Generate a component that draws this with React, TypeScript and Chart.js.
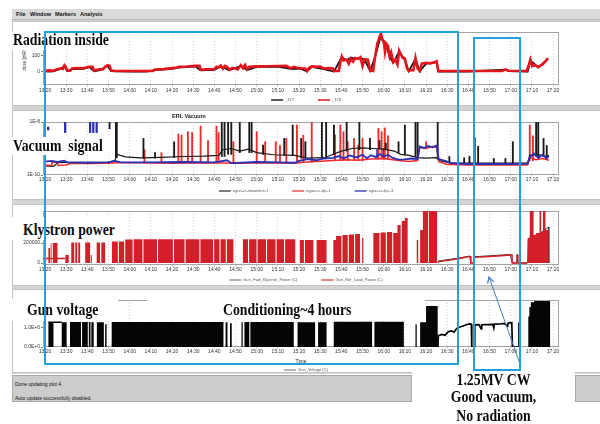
import { useEffect, useRef } from 'react';
import { Chart, registerables } from 'chart.js';

Chart.register(...registerables);
Chart.defaults.font.family = '"Liberation Sans", Arial, sans-serif';

type Pt = [number, number | null];
type Burst = [number, number, number];

// Time axis: minutes after 13:20, one tick every 10 minutes
const timeTicks = [
  '13:20', '13:30', '13:40', '13:50', '14:00', '14:10', '14:20', '14:30', '14:40', '14:50',
  '15:00', '15:10', '15:20', '15:30', '15:40', '15:50', '16:00', '16:10', '16:20', '16:30',
  '16:40', '16:50', '17:00', '17:10', '17:20',
];
const T_MIN = -0.95;
const T_MAX = 242.8;

// ---------- Radiation (dose rate) ----------
const radTicks = [0, 100];
const radTickLabels = ['0', '100'];
const radLegend = ['_377', '_378'];
const radLegendColors = ['#222222', '#e3141c'];
const dose378: Pt[] = [
  [0, 6], [2, 8], [4, 6], [5.5, 14], [7, 20], [8.5, 18], [9.2, 40], [9.8, 30], [10.5, 8], [12, 6],
  [12.8, 20], [15, 22], [18, 21], [19.5, 26], [21, 31], [22.5, 30], [23.2, 6], [24.5, 12], [26, 14],
  [27.5, 15], [28.5, 32], [29.5, 40], [30.5, 38], [31.2, 8], [33, 4], [40, 4], [46, 4], [51, 5],
  [52, 14], [56, 16], [60, 22], [62, 24], [63, 30], [67, 32], [71, 36], [73, 36], [73.5, 12], [76, 14],
  [80, 16], [81, 30], [82, 26], [83, 38], [84, 18], [85, 36], [86, 30], [87, 12], [88.5, 24], [90, 20],
  [91, 14], [92.5, 40], [93.5, 22], [94.5, 42], [95.5, 14], [96.5, 30], [100, 33], [105, 34], [110, 35],
  [114, 36], [116, 22], [117.5, 30], [119, 24], [121, 21], [123.2, 18], [123.8, 4], [124.8, 25], [126, 33],
  [128, 30], [130, 32], [131.6, 20], [134, 22], [136, 20], [136.5, 4], [138.8, 4], [139.5, 60], [140.2, 95],
  [141, 70], [142.5, 75], [143.5, 50], [144.5, 80], [145.5, 62], [146.5, 85], [148, 80], [149, 90], [150, 35],
  [151, 78], [152.5, 75], [153.6, 8], [155, 4], [156, 100], [157, 175], [158, 215], [158.7, 238], [159.3, 200],
  [160, 190], [160.6, 125], [161.2, 175], [162, 160], [162.8, 95], [163.5, 120], [164.5, 60], [165.5, 75],
  [166.5, 45], [167.3, 130], [168, 110], [169, 85], [170, 80], [171, 20], [171.8, 5], [173, 10], [174, 8],
  [175, 85], [176, 20], [177, 5], [178, 50], [180, 55], [182, 52], [184, 58], [185, 65], [185.8, 4],
  [200, 4], [216, 5], [217.5, 14], [219, 6], [227.5, 4], [228.5, 40], [229.3, 75], [230.2, 35], [231.5, 40],
  [233, 30], [235, 45], [236.5, 65], [237.6, 85],
];
const dose377: Pt[] = [
  [0, 2], [2, 0], [4, 2], [5.5, 10], [7, 16], [9.2, 34], [10.5, 4], [12.8, 16], [18, 18], [21, 28],
  [23.2, 2], [26, 10], [29.5, 36], [31.2, 4], [40, 1], [44, 0], [48, 1], [52, 10], [60, 18], [63, 26],
  [71, 33], [73.5, 8], [80, 12], [83, 34], [87, 8], [92.5, 36], [95.5, 10], [100, 30], [110, 32], [116, 18],
  [121, 17], [123.8, 1], [126, 30], [131.6, 16], [136.5, 1], [140.2, 90], [142.5, 70], [144.5, 88],
  [146.5, 80], [149, 86], [151, 74], [153.6, 4], [156, 95], [158.7, 225], [160, 180], [161.2, 165],
  [162.8, 90], [164.5, 55], [167.3, 125], [170, 75], [171.8, 2], [175, 80], [177, 2], [180, 50], [185, 60],
  [185.8, 1], [200, 1], [217.5, 12], [219, 3], [228, 1], [229.3, 70], [233, 26], [237.6, 80],
];

// ---------- ERL vacuum (log scale) ----------
const vacTicks = [1e-10, 1e-8];
const vacTickLabels = ['1E-10', '1E-8'];
const vacLegend = ['egun-cc-beamline-1', 'egun-cc-fpc-1', 'egun-cc-fpc-3'];
const vacLegendColors = ['#555555', '#f05050', '#4a4ac8'];
const beamline1: Pt[] = [
  [0, 2.2e-10], [4, 2.1e-10], [6, 2.9e-10], [10, 3.0e-10], [20, 3.0e-10], [30, 3.1e-10], [33, 3.5e-10],
  [34, 6e-10], [38, 4.8e-10], [45, 4.4e-10], [55, 4.6e-10], [65, 5.0e-10], [75, 5.2e-10], [82, 5.5e-10],
  [84, 9e-10], [88, 1.0e-9], [92, 8e-10], [96, 9.5e-10], [100, 7e-10], [108, 5.8e-10], [118, 5.5e-10],
  [124, 4.3e-10], [132, 4.5e-10], [137, 6.5e-10], [140, 8e-10], [145, 1.0e-9], [150, 1.05e-9], [155, 1.0e-9],
  [160, 9.5e-10], [165, 8e-10], [168, 6e-10], [172, 5.5e-10], [176, 4.5e-10], [180, 4.3e-10], [185, 4.5e-10],
  [186, 3.5e-10], [192, 2.8e-10], [205, 2.8e-10], [220, 2.8e-10], [228, 2.9e-10], [229, 5.5e-10],
  [233, 6e-10], [236, 5e-10], [238, 5.5e-10],
];
const fpc1: Pt[] = [
  [0, 2.4e-10], [3, 2.3e-10], [3.2, 3.0e-10], [6, 3.0e-10], [6.2, 2.3e-10], [10, 2.4e-10], [12, 2.7e-10],
  [20, 2.7e-10], [30, 2.8e-10], [34, 2.9e-10], [45, 2.9e-10], [60, 2.8e-10], [75, 2.9e-10], [90, 2.8e-10],
  [105, 2.9e-10], [118, 2.8e-10], [122, 3.0e-10], [130, 3.3e-10], [136, 3.5e-10], [142, 3.8e-10],
  [148, 3.6e-10], [154, 4.0e-10], [160, 4.2e-10], [166, 3.6e-10], [172, 3.2e-10], [176, 3.5e-10],
  [177, 1.1e-9], [180, 1.0e-9], [183, 1.2e-9], [185, 1.1e-9], [186, 3.2e-10], [190, 2.5e-10], [200, 2.4e-10],
  [215, 2.4e-10], [228, 2.4e-10], [229, 4.5e-10], [232, 3.8e-10], [235, 4.2e-10], [238, 3.6e-10],
];
const fpc3: Pt[] = [
  [0, 3.2e-10], [3, 3.4e-10], [6, 3.1e-10], [9, 3.5e-10], [10.5, 3.0e-10], [20, 2.9e-10], [30, 3.0e-10],
  [33, 3.4e-10], [36, 3.0e-10], [50, 3.0e-10], [65, 3.1e-10], [80, 3.0e-10], [86, 3.6e-10], [88, 2.8e-10],
  [100, 3.1e-10], [110, 3.0e-10], [118, 2.9e-10], [120, 3.4e-10], [124, 4.0e-10], [128, 3.6e-10],
  [132, 4.2e-10], [136, 4.4e-10], [139, 5.2e-10], [141, 4.2e-10], [144, 5.5e-10], [147, 4.6e-10],
  [150, 5.8e-10], [152, 4.3e-10], [154, 5.6e-10], [156, 4.8e-10], [158, 6.2e-10], [160, 5.0e-10],
  [162, 5.8e-10], [164, 4.5e-10], [167, 3.8e-10], [170, 3.9e-10], [173, 4.2e-10], [176, 4.0e-10],
  [177, 1.2e-9], [179, 1.05e-9], [181, 1.25e-9], [183, 1.1e-9], [185, 1.3e-9], [186, 4.0e-10], [189, 3.4e-10],
  [192, 2.8e-10], [200, 2.6e-10], [210, 2.6e-10], [220, 2.6e-10], [228, 2.7e-10], [229, 4.8e-10],
  [231, 6.5e-10], [233, 4.4e-10], [235, 5.8e-10], [237, 4.2e-10], [238, 5.2e-10],
];
// pressure bursts: [minute, low, high]
const beamline1Bursts: Burst[] = [
  [30.5, 5.5e-9, 2e-8], [33.5, 4.5e-10, 2e-8], [33.9, 4.5e-10, 2e-8], [46.5, 4.3e-10, 2.4e-9],
  [52, 4.3e-10, 7e-10], [61, 4.6e-10, 1.8e-9], [83.5, 5e-10, 2e-8], [84.8, 5e-10, 2e-8], [86.5, 6e-10, 2e-8],
  [88, 6e-10, 2e-8], [92, 7e-10, 2e-8], [96.5, 7e-10, 2e-8], [97.6, 7e-10, 2e-8], [103, 6e-10, 1.35e-9],
  [113, 5.5e-10, 2.4e-9], [117, 5.5e-10, 7.7e-9], [121, 4.3e-10, 2.4e-9], [123, 4.3e-10, 1.8e-9],
  [130.8, 4.5e-10, 2e-8], [132.8, 4.5e-10, 2e-8], [136.5, 6e-10, 7.7e-9], [142.5, 8e-10, 2e-8],
  [148.5, 9e-10, 2e-8], [153.5, 9e-10, 2.4e-9], [158, 1e-9, 2.0e-9], [161, 9e-10, 1.6e-9],
  [167, 7e-10, 1.8e-9], [170, 6e-10, 7.7e-9], [175, 5e-10, 2e-8], [176, 5e-10, 2e-8], [185.5, 4e-10, 2e-8],
  [191, 2.8e-10, 5e-10], [198, 2.8e-10, 4.5e-10], [200.5, 2.8e-10, 5e-10], [203, 2.8e-10, 2.6e-9],
  [204.6, 2.8e-10, 1.2e-9], [212, 2.8e-10, 4.2e-10], [217.5, 2.8e-10, 4.2e-10], [221, 2.8e-10, 1.8e-9],
  [224.5, 2.8e-10, 2e-8], [232, 5e-10, 2e-8], [233, 5e-10, 2e-8], [235.5, 5e-10, 2.4e-9], [237, 5e-10, 1.3e-9],
];
const fpc1Bursts: Burst[] = [
  [47, 2.9e-10, 9e-10], [55, 2.9e-10, 7e-10], [63, 2.9e-10, 3.5e-9], [64.5, 2.9e-10, 3.2e-9],
  [67.5, 2.9e-10, 4.3e-9], [69.5, 2.9e-10, 4e-9], [73.5, 2.9e-10, 7e-9], [77, 2.9e-10, 2e-9],
  [81, 2.9e-10, 7e-9], [82, 2.9e-10, 4e-9], [89, 2.9e-10, 1.8e-9], [100, 2.9e-10, 4.3e-9],
  [104, 2.9e-10, 1.8e-9], [109, 2.9e-10, 1.8e-9], [111, 2.9e-10, 1.3e-9], [114, 2.9e-10, 2.4e-9],
  [119, 2.9e-10, 7.7e-9], [122, 3e-10, 3.2e-9], [126, 3e-10, 2e-8], [137, 3.5e-10, 3.2e-9],
  [139.5, 3.5e-10, 7.7e-9], [141, 3.5e-10, 4.3e-9], [143, 3.5e-10, 1.8e-9], [146, 3.5e-10, 2.4e-9],
  [148, 3.5e-10, 1.35e-9], [150, 3.5e-10, 2.4e-9], [157.5, 4e-10, 5.8e-9], [159, 4e-10, 4.3e-9],
  [160.5, 4e-10, 6e-9], [162, 4e-10, 3e-9], [180, 1e-9, 1.8e-9], [229, 3.5e-10, 7.7e-9], [230.5, 3.5e-10, 3e-9],
];
const fpc3Bursts: Burst[] = [
  [1.5, 5e-9, 6.5e-9], [9.5, 4e-9, 2e-8], [21.3, 4e-9, 2e-8], [22.8, 4e-9, 2e-8], [24.4, 4e-9, 2e-8],
  [157, 4e-10, 9e-10], [160, 4e-10, 1e-9],
];

// ---------- Klystron power ----------
const powerTicks = [0, 200000];
const powerTickLabels = ['0', '200000'];
const klyLegend = ['Gun_Fwd_Klystron_Power (C)', 'Gun_Ref_Load_Power (C)'];
const klyLegendColors = ['#9a9a9a', '#e05a5a'];
// value holds from each minute until the next entry
const refLoadSteps: Pt[] = [
  [-1, 0], [1.6, 150000], [2.4, 0], [2.7, 195000], [3.1, 0], [3.7, 200000], [5.9, 0],
  [9.6, 80000], [11.2, 0], [12.4, 205000], [13.8, 0], [14.3, 205000], [15.2, 0], [15.7, 205000], [16.6, 0],
  [19.0, 205000], [21.3, 0], [21.6, 80000], [22.1, 0], [24.4, 205000], [26.0, 0], [26.6, 205000], [28.4, 0],
  [31.6, 215000], [34.4, 0], [34.9, 215000], [37.4, 0], [37.9, 235000], [41.4, 0], [41.9, 237000],
  [46.0, 0], [46.5, 237000], [52.9, 0], [53.4, 237000], [60.4, 0], [60.9, 237000], [65.9, 0],
  [66.4, 237000], [72.9, 0], [73.4, 237000], [79.4, 0], [79.9, 237000], [82.4, 0], [82.9, 237000],
  [85.4, 0], [85.9, 237000], [89.0, 0], [93.5, 237000], [95.9, 0], [96.4, 237000], [99.9, 0],
  [100.4, 237000], [104.4, 0], [104.9, 237000], [108.9, 0], [109.4, 237000], [112.9, 0], [113.4, 237000],
  [118.2, 0], [120.4, 230000], [122.3, 0], [122.8, 230000], [126.8, 0], [128.3, 230000], [133.0, 0],
  [136.2, 230000], [137.5, 270000], [140.0, 0], [140.5, 280000], [143.0, 0], [143.5, 285000], [146.0, 0],
  [146.5, 290000], [148.8, 0], [149.8, 250000], [150.4, 0], [155.1, 300000], [158.0, 0], [158.5, 305000],
  [161.0, 0], [161.5, 310000], [164.0, 0], [164.5, 300000], [166.5, 380000], [168.0, 0], [168.5, 420000],
  [170.0, 450000], [171.3, 0], [175.6, 230000], [176.3, 0], [177.2, 330000], [178.5, 600000], [181.0, 0],
  [181.4, 600000], [185.2, 0], [228.0, 250000], [229.0, 600000], [230.8, 280000], [232.0, 300000],
  [233.6, 600000], [234.4, 310000], [235.2, 600000], [236.4, 330000], [237.9, 0], [242.8, 0],
];
const refLoadTrace: Pt[] = [
  [-1, 45000], [9.6, 45000], [9.7, null],
  [185.6, 0], [185.8, 13000], [188, 20000], [191.4, 30000], [194, 40000], [196, 45000], [198, 55000],
  [200.8, 63000], [201.1, 0], [202.4, 0], [202.5, 57000], [206, 60000], [210, 65000], [214, 70000],
  [217, 75000], [219.8, 80000], [220.6, 80000], [220.7, 0], [222.9, 0], [223.0, 80000], [223.3, 0], [227.7, 0],
];
const fwdKlystronTrace: Pt[] = [
  [185.8, 20000], [191.4, 37000], [196, 52000], [200.8, 70000], [201.1, 0], [202.4, 0], [202.5, 63000],
  [210, 72000], [219.8, 86000], [220.7, 0], [222.9, 0], [223.0, 85000], [223.3, 0], [228.0, 0],
  [228.3, 240000], [230, 270000], [232, 280000], [234, 300000], [236, 330000], [237.9, 360000], [238.0, 0],
];

// ---------- Gun voltage ----------
const voltTicks = [0, 1e6];
const voltTickLabels = ['0.0E+0', '1.0E+6'];
const gunLegend = ['Gun_Voltage (C)'];
const gunLegendColors = ['#9a9a9a'];
const gunVoltageSteps: Pt[] = [
  [-1, 0], [1.6, 1.3e6], [4.0, 0], [7.9, 1.3e6], [10.2, 0], [11.8, 1.32e6], [17.0, 0], [17.5, 1.32e6],
  [20.2, 0], [20.7, 1.32e6], [21.5, 0], [21.9, 1.3e6], [23.0, 0], [24.5, 1.3e6], [27.8, 0], [28.4, 1.2e6],
  [29.1, 0], [31.5, 1.32e6], [84.3, 0], [85.3, 1.3e6], [86.2, 0], [87.4, 1.25e6], [88.2, 0],
  [92.8, 1.3e6], [93.4, 0], [94.2, 1.32e6], [96.5, 0], [97.0, 1.32e6], [117.5, 0], [119.3, 1.3e6],
  [127.6, 0], [129.0, 1.3e6], [133.0, 0], [136.4, 1.33e6], [154.5, 0], [155.6, 1.33e6], [169.5, 0],
  [175.0, 1.2e6], [175.6, 0], [177.2, 1.3e6], [180.0, 2.15e6], [185.5, 0], [223.5, 1.3e6], [224.5, 0],
  [228.3, 1.6e6], [228.8, 2.1e6], [229.5, 2.35e6], [231.0, 2.42e6], [238.6, 0], [242.8, 0],
];
const gunVoltageTrace: Pt[] = [
  [1.6, 1.3e6], [7.9, 1.3e6], [8.0, null],
  [185.6, 0], [185.8, 0.6e6], [187.5, 0.66e6], [189, 0.62e6], [190.5, 0.8e6], [192, 0.85e6],
  [193.2, 0.78e6], [194.5, 0.98e6], [196, 1.05e6], [197.5, 1.1e6], [199, 1.17e6], [200.5, 1.21e6],
  [201.4, 1.2e6], [201.6, 0], [202.7, 0], [203.0, 1.16e6], [205, 1.17e6], [206, 0.95e6], [206.3, 1.17e6],
  [209, 1.18e6], [211.5, 1.19e6], [212, 1.0e6], [212.3, 1.2e6], [215, 1.21e6], [217, 1.24e6],
  [218.5, 1.1e6], [218.8, 1.26e6], [220.5, 1.28e6], [220.8, 0], [223.5, 0],
];

// ---------- layout helpers ----------
const CANVAS_H = 130;
const LEGEND_FONT = 4;
const LEGEND_GAP = 24;

const xy = (a: Pt[]) => a.map(([x, y]) => ({ x, y }));
const bursts = (a: Burst[]) => a.map(([x, lo, hi]) => ({ x, y: [lo, hi] }));

const plotFrame = {
  id: 'plotFrame',
  beforeDatasetsDraw(chart: any) {
    const { ctx, chartArea: a } = chart;
    ctx.save();
    ctx.strokeStyle = '#a4a4a4';
    ctx.lineWidth = 1;
    ctx.strokeRect(Math.round(a.left) + 0.5, Math.round(a.top) + 0.5, Math.round(a.width) - 1, Math.round(a.height) - 1);
    ctx.restore();
  },
};

// places the bottom legend row at a fixed height below the time axis
const legendPlacer = {
  id: 'legendPlacer',
  afterLayout(chart: any, _args: any, opts: any) {
    const lg = chart.legend;
    if (!lg || opts.y == null) return;
    const dy = opts.y - (lg.top + LEGEND_GAP + LEGEND_FONT / 2);
    lg.top += dy;
    lg.bottom += dy;
    lg.left += opts.dx || 0;
    lg.right += opts.dx || 0;
  },
};

function timeAxis(xH: number, tickPad: number, title?: string) {
  return {
    type: 'linear',
    min: T_MIN,
    max: T_MAX,
    offset: false,
    afterBuildTicks: (s: any) => { s.ticks = timeTicks.map((_, i) => ({ value: i * 10 })); },
    afterFit: (s: any) => { s.height = xH; },
    ticks: {
      autoSkip: false, maxRotation: 0, minRotation: 0, padding: tickPad, color: '#333',
      font: { size: 5 }, callback: (v: number) => timeTicks[Math.round(v / 10)],
    },
    grid: { color: '#c4c4c4', lineWidth: 0.8, tickLength: 2, offset: false },
    border: { display: false, dash: [1, 2] },
    title: title
      ? { display: true, text: title, color: '#222', font: { size: 5 }, padding: 0 }
      : { display: false },
  };
}

function valueAxis(p: any) {
  return {
    type: p.yType,
    min: p.yMin,
    max: p.yMax,
    afterBuildTicks: (s: any) => { s.ticks = p.yTicks.map((value: number) => ({ value })); },
    afterFit: (s: any) => { s.width = p.yWidth; },
    ticks: {
      padding: 1, color: '#333', font: { size: 5 },
      callback: (v: number) => { const k = p.yTicks.indexOf(v); return k < 0 ? '' : p.yLabels[k]; },
    },
    grid: { drawOnChartArea: false, tickLength: 2, color: '#777' },
    border: { display: false },
    title: p.yTitle
      ? { display: true, text: p.yTitle, color: '#333', font: { size: 4.5 }, padding: { top: 0, bottom: 0 } }
      : { display: false },
  };
}

function buildConfig(p: any, datasets: any[]): any {
  const legendH = LEGEND_FONT + LEGEND_GAP + 10;
  const padTop = p.plotTop - p.canvasTop;
  const padBottom = CANVAS_H - padTop - (p.plotBottom - p.plotTop) - p.xH - legendH;
  return {
    type: 'line',
    data: { datasets },
    plugins: [plotFrame, legendPlacer],
    options: {
      responsive: false,
      animation: false,
      devicePixelRatio: 1,
      events: [],
      layout: { padding: { left: p.padLeft, right: 41, top: padTop, bottom: padBottom } },
      elements: { point: { radius: 0 }, line: { tension: 0 } },
      scales: { x: timeAxis(p.xH, p.tickPad, p.xTitle), y: valueAxis(p) },
      plugins: {
        tooltip: { enabled: false },
        legend: {
          position: 'bottom',
          fullSize: false,
          labels: {
            usePointStyle: true, pointStyle: 'line', pointStyleWidth: 12, boxHeight: LEGEND_FONT,
            padding: LEGEND_GAP, color: '#555', font: { size: LEGEND_FONT },
            generateLabels: () => p.legendNames.map((text: string, i: number) => ({
              text, strokeStyle: p.legendColors[i], fillStyle: p.legendColors[i], fontColor: '#555',
              lineWidth: 1.5, pointStyle: 'line', hidden: false, datasetIndex: i,
            })),
          },
        },
        legendPlacer: { y: p.legendY - p.canvasTop, dx: 5 },
      },
    },
  };
}

const radPanel = {
  canvasTop: 18, plotTop: 32, plotBottom: 85, legendY: 100, padLeft: 22, yWidth: 21, xH: 10, tickPad: 1,
  yType: 'linear', yMin: -83, yMax: 247, yTicks: radTicks, yLabels: radTickLabels, yTitle: 'dose [mR/h]',
  legendNames: radLegend, legendColors: radLegendColors,
};
const vacPanel = {
  canvasTop: 108, plotTop: 122, plotBottom: 175, legendY: 191, padLeft: 0, yWidth: 43, xH: 10, tickPad: 0,
  yType: 'logarithmic', yMin: 1e-10, yMax: 1e-8, yTicks: vacTicks, yLabels: vacTickLabels,
  legendNames: vacLegend, legendColors: vacLegendColors,
};
const klyPanel = {
  canvasTop: 197, plotTop: 211, plotBottom: 265, legendY: 280, padLeft: 0, yWidth: 43, xH: 10, tickPad: 0,
  yType: 'linear', yMin: -20000, yMax: 520000, yTicks: powerTicks, yLabels: powerTickLabels,
  legendNames: klyLegend, legendColors: klyLegendColors,
};
const gunPanel = {
  canvasTop: 286, plotTop: 300, plotBottom: 347, legendY: 370, padLeft: 0, yWidth: 43, xH: 18, tickPad: 0,
  yType: 'linear', yMin: 0, yMax: 2.47e6, yTicks: voltTicks, yLabels: voltTickLabels, xTitle: 'Time',
  legendNames: gunLegend, legendColors: gunLegendColors,
};

const RAD_RED = '#e3141c';
const VAC_RED = '#ee2c2c';
const VAC_BLUE = '#2b2fb4';
const KLY_RED = '#d21f2a';

const serifBold: any = {
  position: 'absolute', fontFamily: '"Liberation Serif", "Times New Roman", serif', fontWeight: 700,
  fontSize: 16, lineHeight: '16px', whiteSpace: 'pre', color: '#0c0c0c',
  transform: 'scaleX(0.86)', transformOrigin: '0 0',
};
const small: any = { position: 'absolute', fontSize: 5, lineHeight: '6px', color: '#111', whiteSpace: 'pre' };
const whiteBox = (left: number, top: number, width: number, height: number): any => ({
  position: 'absolute', left, top, width, height, background: '#ffffff',
});
const blueRect = (left: number, top: number, width: number, height: number): any => ({
  position: 'absolute', left, top, width, height, border: '2px solid #1ea2de', boxSizing: 'border-box',
});

export default function App() {
  const radRef = useRef<HTMLCanvasElement>(null);
  const vacRef = useRef<HTMLCanvasElement>(null);
  const klyRef = useRef<HTMLCanvasElement>(null);
  const gunRef = useRef<HTMLCanvasElement>(null);

  useEffect(() => {
    const charts = [
      new Chart(radRef.current as any, buildConfig(radPanel, [
        { label: '_378', data: xy(dose378), borderColor: RAD_RED, backgroundColor: RAD_RED, borderWidth: 2.6 },
        { label: '_377', data: xy(dose377), borderColor: '#141414', backgroundColor: '#141414', borderWidth: 1.8 },
      ])),
      new Chart(vacRef.current as any, buildConfig(vacPanel, [
        { label: vacLegend[2], data: xy(fpc3), borderColor: VAC_BLUE, backgroundColor: VAC_BLUE, borderWidth: 1.8 },
        { label: vacLegend[1], data: xy(fpc1), borderColor: VAC_RED, backgroundColor: VAC_RED, borderWidth: 1.5 },
        { label: vacLegend[0], data: xy(beamline1), borderColor: '#161616', backgroundColor: '#161616', borderWidth: 1.2 },
        { type: 'bar', label: '', data: bursts(beamline1Bursts), backgroundColor: '#1a1a1a', barThickness: 1.2, grouped: false },
        { type: 'bar', label: '', data: bursts(fpc1Bursts), backgroundColor: VAC_RED, barThickness: 1.2, grouped: false },
        { type: 'bar', label: '', data: bursts(fpc3Bursts), backgroundColor: VAC_BLUE, barThickness: 1.6, grouped: false },
      ])),
      new Chart(klyRef.current as any, buildConfig(klyPanel, [
        { label: '', data: xy(refLoadTrace), borderColor: KLY_RED, backgroundColor: KLY_RED, borderWidth: 1.3 },
        { label: klyLegend[1], data: xy(refLoadSteps), stepped: true, fill: 'origin', backgroundColor: KLY_RED, borderColor: 'rgba(0,0,0,0)', borderWidth: 1 },
        { label: klyLegend[0], data: xy(fwdKlystronTrace), borderColor: '#3a3a3a', backgroundColor: '#3a3a3a', borderWidth: 1 },
      ])),
      new Chart(gunRef.current as any, buildConfig(gunPanel, [
        { label: '', data: xy(gunVoltageTrace), borderColor: '#000', backgroundColor: '#000', borderWidth: 1.7 },
        { label: gunLegend[0], data: xy(gunVoltageSteps), stepped: true, fill: 'origin', backgroundColor: '#050505', borderColor: 'rgba(0,0,0,0)', borderWidth: 1 },
      ])),
    ];
    return () => charts.forEach((c) => c.destroy());
  }, []);

  const canvasStyle = (top: number): any => ({ position: 'absolute', left: 0, top });

  return (
    <div style={{ position: 'absolute', left: 0, top: 0, width: 600, height: 424, background: '#fff', overflow: 'hidden', fontFamily: '"Liberation Sans", Arial, sans-serif' }}>
      {/* window chrome */}
      <div style={{ position: 'absolute', left: 12, top: 20, width: 588, height: 354, background: '#d4d4d4' }} />
      {[[21, 85], [110, 90], [204, 82], [289, 84]].map(([top, h]) => (
        <div key={top} style={{ position: 'absolute', left: 12, top, width: 600, height: h, background: '#fff', border: '1px solid #c2c2c2', boxSizing: 'border-box' }} />
      ))}
      <div style={{ position: 'absolute', left: 12, top: 9, width: 588, height: 10, background: '#dadada', borderBottom: '1px solid #b5b5b5' }} />
      <div style={{ ...small, left: 16, top: 11, fontWeight: 700, fontSize: 5.5 }}>File</div>
      <div style={{ ...small, left: 30, top: 11, fontWeight: 700, fontSize: 5.5 }}>Window</div>
      <div style={{ ...small, left: 55, top: 11, fontWeight: 700, fontSize: 5.5 }}>Markers</div>
      <div style={{ ...small, left: 80, top: 11, fontWeight: 700, fontSize: 5.5 }}>Analysis</div>

      <canvas ref={radRef} width={600} height={CANVAS_H} style={canvasStyle(radPanel.canvasTop)} />
      <canvas ref={vacRef} width={600} height={CANVAS_H} style={canvasStyle(vacPanel.canvasTop)} />
      <canvas ref={klyRef} width={600} height={CANVAS_H} style={canvasStyle(klyPanel.canvasTop)} />
      <canvas ref={gunRef} width={600} height={CANVAS_H} style={canvasStyle(gunPanel.canvasTop)} />

      <div style={{ ...small, left: 172, top: 113, fontWeight: 700, fontSize: 5.5, color: '#222' }}>ERL Vacuum</div>

      {/* status bar */}
      <div style={{ position: 'absolute', left: 12, top: 375, width: 400, height: 27, background: '#cdcdcd', border: '1px solid #a8a8a8', boxSizing: 'border-box' }} />
      <div style={{ position: 'absolute', left: 575, top: 375, width: 30, height: 27, background: '#cdcdcd', border: '1px solid #a8a8a8', boxSizing: 'border-box' }} />
      <div style={{ ...small, left: 15, top: 381 }}>Done updating plot 4.</div>
      <div style={{ ...small, left: 15, top: 395 }}>Auto update successfully disabled.</div>

      {/* annotations */}
      <div style={whiteBox(10, 32, 102, 18)} />
      <div style={{ ...serifBold, left: 12.7, top: 31.9 }}>Radiation inside</div>
      <div style={whiteBox(10, 217, 107, 23)} />
      <div style={{ ...serifBold, left: 22.7, top: 221.6 }}>Klystron power</div>
      <div style={whiteBox(10, 299, 108, 21.5)} />
      <div style={{ ...serifBold, left: 27.3, top: 301.6 }}>Gun voltage</div>
      <div style={whiteBox(147, 299, 278, 21.5)} />
      <div style={{ ...serifBold, left: 222.7, top: 301.6 }}>Conditioning~4 hours</div>
      <div style={whiteBox(412, 372, 163, 52)} />
      {[['1.25MV CW', 371.6], ['Good vacuum,', 388.9], ['No radiation', 408.3]].map(([t, top]) => (
        <div key={t as string} style={{ ...serifBold, left: 412, width: 163, top, textAlign: 'center', transformOrigin: '50% 0' }}>{t}</div>
      ))}

      <div style={blueRect(44, 31, 415, 334)} />
      <div style={blueRect(472.5, 36.5, 48.5, 334.5)} />

      <div style={whiteBox(10, 137, 100, 18)} />
      <div style={{ ...serifBold, left: 12.7, top: 138.3 }}>Vacuum  signal</div>

      <svg width={600} height={424} style={{ position: 'absolute', left: 0, top: 0 }}>
        <line x1={520} y1={364} x2={489} y2={277} stroke="#4a7ebb" strokeWidth={1} />
        <polyline points="487.6,283.5 489,277 493.6,281.8" fill="none" stroke="#4a7ebb" strokeWidth={1.2} />
      </svg>
    </div>
  );
}
